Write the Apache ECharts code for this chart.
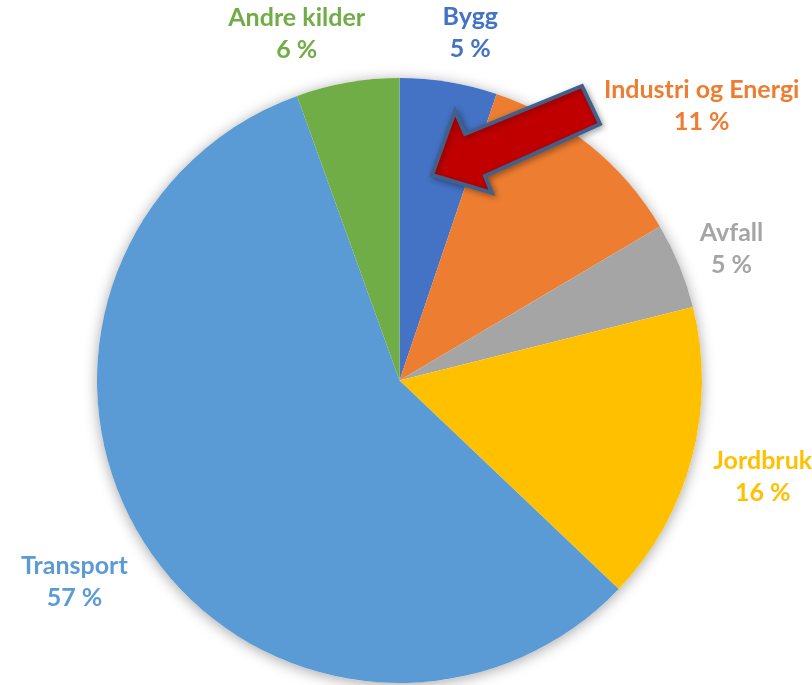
<!DOCTYPE html>
<html>
<head>
<meta charset="utf-8">
<script src="https://cdn.jsdelivr.net/npm/echarts@6/dist/echarts.min.js"></script>
<style>
  html, body { margin: 0; padding: 0; background: #fff; }
  #chart { width: 812px; height: 685px; }
</style>
</head>
<body>
<div id="chart"></div>
<script>
  // andeler, lest av vinklene i figuren (med klokka fra toppen)
  const categories = ['Bygg', 'Industri og Energi', 'Avfall', 'Jordbruk', 'Transport', 'Andre kilder'];
  const shares = [5.2, 11.3, 4.6, 16.0, 57.4, 5.5];
  const colors = ['#4472C4', '#ED7D31', '#A5A5A5', '#FFC000', '#5B9BD5', '#70AD47'];

  const cx = 399.5, cy = 380.5, r = 302.5;
  const total = shares.reduce((a, b) => a + b, 0);

  // midtvinkel for hver sektor (radianer, med klokka fra toppen)
  const midAngles = [];
  let acc = 0;
  for (let i = 0; i < shares.length; i++) {
    midAngles.push((acc + shares[i] / 2) / total * Math.PI * 2);
    acc += shares[i];
  }

  const clamp = v => Math.max(-1, Math.min(1, v));

  let myChart = echarts.init(document.getElementById('chart'));
  myChart.setOption({
    animation: false,
    series: [
      {
        // skygge bak hele sirkelen
        type: 'pie',
        silent: true,
        center: [cx, cy],
        radius: r,
        z: 1,
        label: {show: false},
        labelLine: {show: false},
        itemStyle: {
          color: '#ffffff',
          shadowBlur: 14,
          shadowOffsetY: 2,
          shadowColor: 'rgba(0, 0, 0, 0.35)'
        },
        data: [{value: total, name: ''}]
      },
      {
        type: 'pie',
        center: [cx, cy],
        radius: r,
        z: 2,
        startAngle: 90,
        clockwise: true,
        labelLine: {show: false},
        label: {
          show: true,
          position: 'outside',
          overflow: 'none',
          bleedMargin: 0,
          fontFamily: 'Lato',
          fontWeight: 'bold',
          fontSize: 25,
          lineHeight: 32,
          formatter: function (p) {
            return p.name + '\n' + Math.round(p.value) + ' %';
          }
        },
        labelLayout: function (p) {
          const a = midAngles[p.dataIndex];
          const R = r + 22;
          const w = p.labelRect.width, h = p.labelRect.height;
          const x = cx + R * Math.sin(a) + w / 2 * clamp(4 * Math.sin(a));
          const y = cy - R * Math.cos(a) - h / 2 * clamp(1.1 * Math.cos(a)) + 5;
          return {x: x, y: y, align: 'center', verticalAlign: 'middle'};
        },
        data: categories.map((name, i) => ({
          name: name,
          value: shares[i],
          itemStyle: {color: colors[i]},
          label: {color: colors[i]}
        }))
      }
    ],
    graphic: [
      {
        // rød pil som peker på Bygg
        type: 'polygon',
        z: 100,
        shape: {
          points: [[432, 175], [455, 111], [465, 134], [582, 86], [600, 124], [485, 176], [492, 193]]
        },
        style: {
          fill: '#C00000',
          stroke: '#41618C',
          lineWidth: 4,
          lineJoin: 'miter',
          shadowBlur: 6,
          shadowOffsetX: 2,
          shadowOffsetY: 2,
          shadowColor: 'rgba(0, 0, 0, 0.3)'
        }
      }
    ]
  });
</script>
</body>
</html>
